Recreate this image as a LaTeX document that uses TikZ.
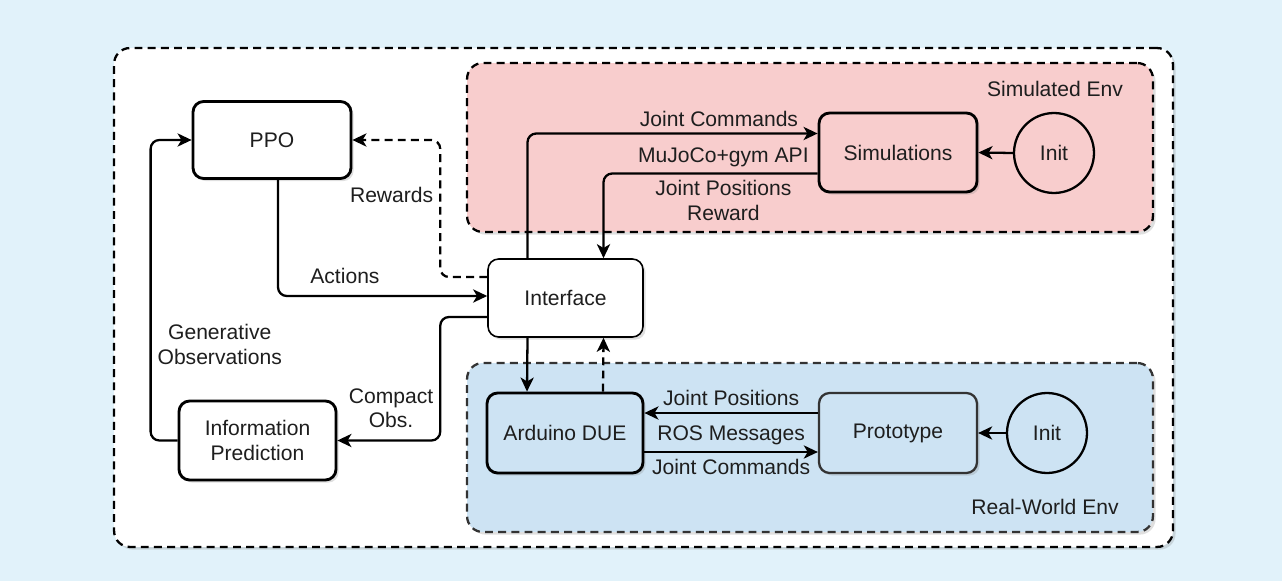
\documentclass[tikz,border=0pt]{standalone}
\usepackage{fontspec}
\setmainfont{Liberation Sans}
\usetikzlibrary{arrows.meta,calc,shadows}

\definecolor{bgblue}{RGB}{225,242,250}
\definecolor{simred}{RGB}{248,205,205}
\definecolor{realblue}{RGB}{205,227,243}
\definecolor{txtgray}{RGB}{30,30,30}
\definecolor{edgegray}{RGB}{51,51,51}

\begin{document}
\begin{tikzpicture}[x=0.02cm, y=-0.02cm,
    font=\fontsize{12}{14}\selectfont, text=txtgray,
    lightshadow/.style={drop shadow={shadow xshift=1.5pt, shadow yshift=-1.5pt, opacity=0.25}},
    envbox/.style={draw, line width=1.3pt, dash pattern=on 4.5pt off 3pt, rounded corners=9pt, lightshadow},
    block/.style={draw, line width=1.6pt, rounded corners=6pt, align=center, inner sep=2pt, lightshadow},
    initnode/.style={draw, circle, line width=1.3pt, minimum size=1.6cm, inner sep=0pt},
    flow/.style={line width=1.3pt, rounded corners=5pt, -{Stealth[length=8pt, width=7.5pt, inset=2.2pt]}},
    feedback/.style={flow, dash pattern=on 4.5pt off 3pt}]

    % Page background
    \fill[bgblue] (0,0) rectangle (1282,581);
    \useasboundingbox (0,0) rectangle (1282,581);

    % Outer frame and the two environments
    \node[envbox, fill=white, minimum width=21.18cm, minimum height=9.98cm] (frame) at (643.5,297.5) {};
    \node[envbox, fill=simred, minimum width=13.72cm, minimum height=3.38cm] (simenv) at (810,147.5) {};
    \node[envbox, draw=edgegray, fill=realblue, minimum width=13.72cm, minimum height=3.38cm] (realenv) at (810,447.5) {};
    \node (simtitle) at (1055,89) {Simulated Env};
    \node (realtitle) at (1045,507) {Real-World Env};

    % Learning side
    \node[block, fill=white, minimum width=3.16cm, minimum height=1.54cm] (ppo) at (272,140) {PPO};
    \node[block, fill=white, minimum width=3.14cm, minimum height=1.58cm] (info) at (257.5,440.5) {Information\\Prediction};
    \node[block, fill=white, line width=0.9pt, minimum width=3.1cm, minimum height=1.56cm] (iface) at (565.5,298) {Interface};

    % Simulated environment
    \node[block, fill=simred, minimum width=3.16cm, minimum height=1.58cm] (sim) at (898,152.5) {Simulations};
    \node[initnode] (siminit) at (1054,153) {Init};

    % Real-world environment
    \node[block, fill=realblue, minimum width=3.12cm, minimum height=1.6cm] (due) at (565,433) {Arduino DUE};
    \node[block, draw=edgegray, line width=1.3pt, fill=realblue, minimum width=3.16cm, minimum height=1.6cm] (proto) at (898,433) {Prototype};
    \node[initnode] (realinit) at (1047,433) {Init};

    % Learning loop
    \draw[flow] (info.west) -- ++(-27,0) |- (ppo.west)
        node[pos=0.16, right, align=center] {Generative\\Observations};
    \draw[feedback] ($(iface.west)+(0,-21)$) -- ++(-47,0) |- (ppo.east)
        node[pos=0.3, left] {Rewards};
    \draw[flow] ($(ppo.south)+(6,0)$) |- ($(iface.west)+(0,-2)$)
        node[pos=0.66, above=3pt] {Actions};
    \draw[flow] ($(iface.west)+(0,19)$) -- ++(-47,0) |- (info.east)
        node[pos=0.37, left, align=center] {Compact\\Obs.};

    % Interface <-> simulation
    \draw[flow] ($(iface.north)+(-38,0)$) |- ($(sim.west)+(0,-19)$)
        node[pos=0.83, above] {Joint Commands};
    \draw[flow] ($(sim.west)+(0,21)$) -| ($(iface.north)+(38,0)$)
        node[pos=0.22, above] {MuJoCo+gym API}
        node[pos=0.22, below, align=center] {Joint Positions\\Reward};
    \draw[flow] (siminit.west) -- (sim.east);

    % Interface <-> hardware
    \draw[flow] ($(iface.south)+(-38,0)$) -- ($(due.north)+(-38,0)$);
    \draw[feedback] ($(due.north)+(38,0)$) -- ($(iface.south)+(38,0)$);
    \draw[flow] ($(proto.west)+(0,-20)$) -- ($(due.east)+(0,-20)$)
        node[midway, above] {Joint Positions};
    \draw[flow] ($(due.east)+(0,19)$) -- ($(proto.west)+(0,19)$)
        node[midway, above] {ROS Messages}
        node[midway, below] {Joint Commands};
    \draw[flow] (realinit.west) -- (proto.east);
\end{tikzpicture}
\end{document}
